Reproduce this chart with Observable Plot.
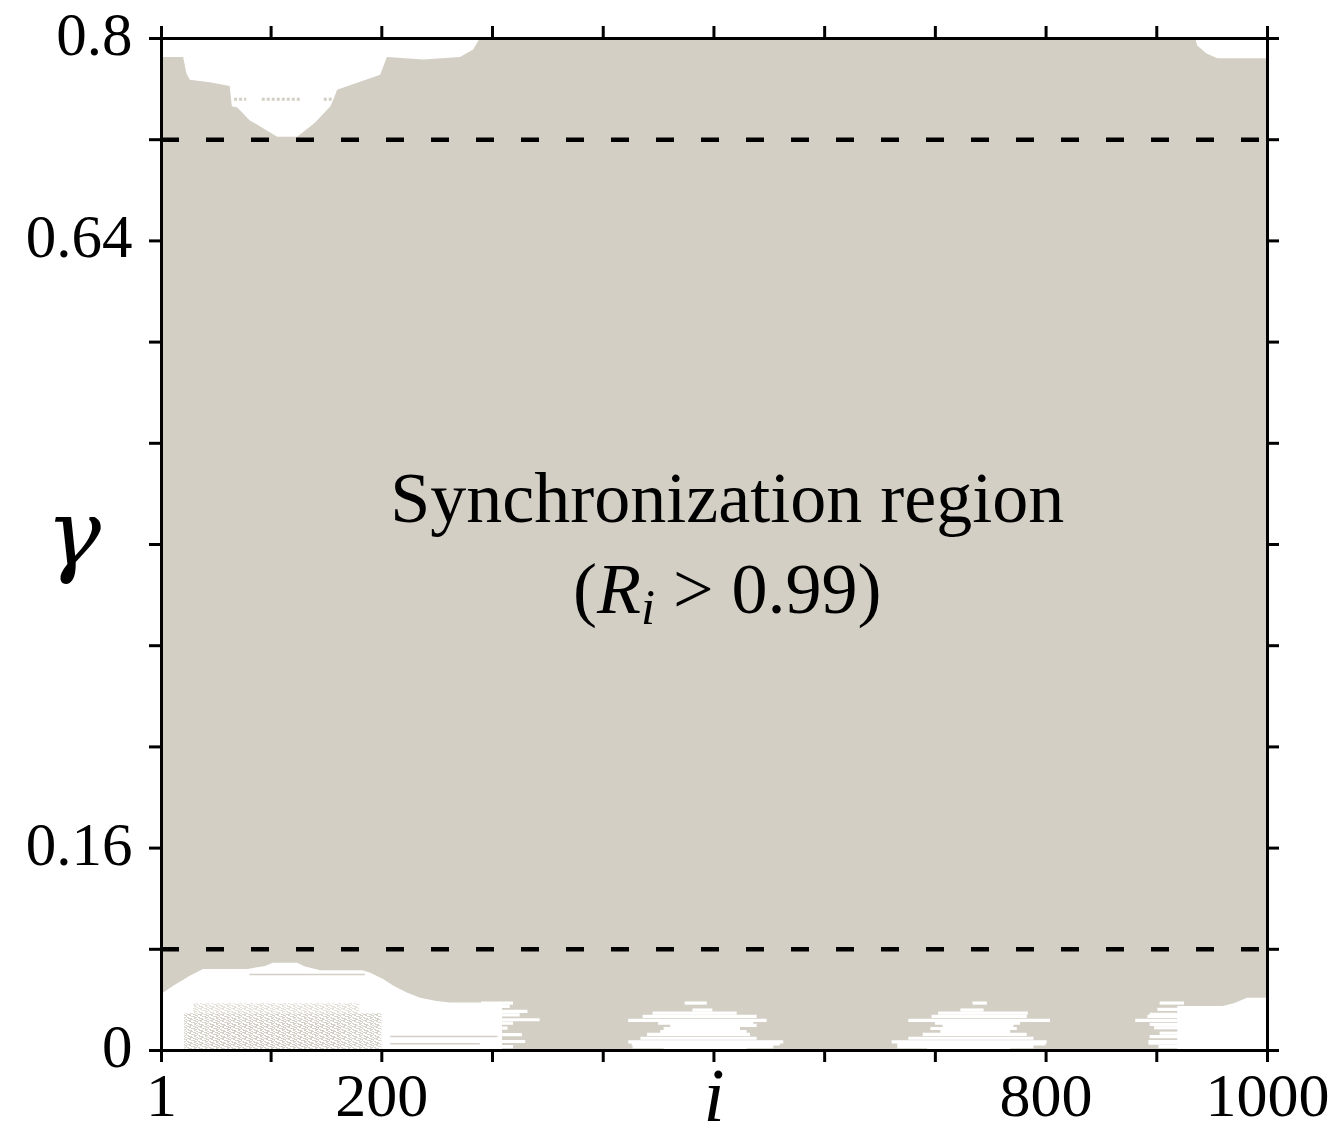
<!DOCTYPE html>
<html>
<head>
<meta charset="utf-8">
<script src="https://cdn.jsdelivr.net/npm/d3@7"></script>
<script src="https://cdn.jsdelivr.net/npm/@observablehq/plot@0.6"></script>
<style>
  html, body { margin: 0; padding: 0; background: #fff; }
  #chart svg { display: block; overflow: visible; }
</style>
</head>
<body>
<div id="chart"></div>
<script>
// ---------- tick values & labels ----------
const xTicks = [1, 100, 200, 300, 400, 500, 600, 700, 800, 900, 1000];
const xTickText = ["1", "", "200", "", "", "", "", "", "800", "", "1000"];
const yTicks = [0, 0.08, 0.16, 0.24, 0.32, 0.40, 0.48, 0.56, 0.64, 0.72, 0.8];
const yTickText = ["0", "", "0.16", "", "", "", "", "", "0.64", "", "0.8"];

// dashed reference levels of gamma
const dashedLevels = [0.08, 0.72];

// upper edge of the synchronization region where it leaves the top (left part)
const topHoleLeft = [
  [1, 0.785], [21, 0.785], [24, 0.772], [27, 0.767], [45, 0.765], [63, 0.762],
  [65, 0.746], [70, 0.745], [81, 0.735], [106, 0.722], [124, 0.722],
  [140, 0.733], [154, 0.746], [157, 0.752], [160, 0.759], [199, 0.771],
  [205, 0.785], [238, 0.783], [271, 0.785], [283, 0.791], [289, 0.8]
].map(([i, g]) => ({i, g}));

// upper edge of the synchronization region (right part)
const topHoleRight = [
  [935, 0.8], [937, 0.794], [945, 0.788], [955, 0.784], [1000, 0.784]
].map(([i, g]) => ({i, g}));

// small unsynchronized traces inside the upper hole
const topSpeckles = [
  {i1: 67, i2: 78, g: 0.752}, {i1: 92, i2: 128, g: 0.752}, {i1: 148, i2: 157, g: 0.752}
];

// lower edge of the synchronization region (left part)
const bottomHoleLeft = [
  [1, 0.0454], [3, 0.0454], [12, 0.0507], [27, 0.0586], [39, 0.064], [79, 0.064],
  [95, 0.0665], [102, 0.069], [124, 0.069], [131, 0.066], [145, 0.063], [183, 0.063],
  [190, 0.061], [202, 0.056], [211, 0.0507], [223, 0.0454], [235, 0.0414],
  [250, 0.0388], [262, 0.0375], [309, 0.0375]
].map(([i, g]) => ({i, g}));

// lower edge of the synchronization region (right part)
const bottomHoleRight = [
  [919, 0.0348], [960, 0.0348], [970, 0.037], [982, 0.0414], [1000, 0.0414]
].map(([i, g]) => ({i, g}));

// partially synchronized (speckled) bands inside the lower-left hole: i1, i2, g1, g2, density
const speckleBands = [
  [30, 180, 0.029, 0.037, 0.6],
  [22, 200, 0.0, 0.029, 0.9],
  [45, 165, 0.0, 0.022, 0.7]
].map(([i1, i2, g1, g2, d]) => ({i1, i2, g1, g2, d}));

// thin synchronized lines crossing the lower-left hole
const grayLines = [
  {i1: 81, i2: 185, g: 0.060},
  {i1: 208, i2: 305, g: 0.0111},
  {i1: 208, i2: 289, g: 0.0053}
];

// thin unsynchronized stripes (i1, i2, gamma)
const whiteStripes = [
  // ragged right end of the lower-left hole
  [290, 319, 0.0375], [290, 316, 0.0349], [290, 332, 0.0309], [290, 325, 0.0282],
  [290, 343, 0.0243], [290, 319, 0.0216], [290, 314, 0.0177], [290, 327, 0.0125],
  [290, 330, 0.0071], [290, 319, 0.003],
  // patch around i = 490
  [474, 494, 0.0375], [481, 499, 0.032], [445, 521, 0.0296], [436, 539, 0.027],
  [423, 548, 0.0238], [450, 536, 0.0216], [461, 539, 0.0198], [455, 524, 0.0174],
  [452, 530, 0.015], [440, 533, 0.0127], [434, 539, 0.0097], [423, 563, 0.0068],
  [426, 560, 0.0052], [427, 554, 0.003], [455, 530, 0.0016],
  // patch around i = 735
  [734, 747, 0.0375], [723, 744, 0.032], [703, 784, 0.0296], [697, 783, 0.027],
  [676, 804, 0.0238], [700, 777, 0.0216], [707, 771, 0.0198], [696, 774, 0.0174],
  [705, 768, 0.015], [689, 783, 0.0127], [676, 789, 0.0097], [661, 801, 0.0068],
  [666, 800, 0.0052], [666, 789, 0.003], [693, 768, 0.0016],
  // ragged left end of the lower-right hole
  [903, 925, 0.0375], [901, 925, 0.0325], [894, 925, 0.0285], [892, 925, 0.027],
  [881, 925, 0.0238], [894, 925, 0.0206], [898, 925, 0.018], [903, 928, 0.0137],
  [894, 1000, 0.011], [893, 1000, 0.0071], [893, 1000, 0.0058], [902, 1000, 0.003]
].map(([i1, i2, g]) => ({i1, i2, g}));

// annotation texts
const regionTitle = [{i: 512, g: 0.4175, text: "Synchronization region"}];
const regionCond = [{i: 512, g: 0.346, text: "(Ri > 0.99)"}];
const xLabel = [{i: 500, text: "i"}];
const yLabel = [{g: 0.384, text: "γ"}];

// ---------- styling ----------
const SYNC = "#d3cfc5";
const FONT = "Liberation Serif, Times New Roman, serif";
const TICK = 12;
const near = (arr, v) => arr.findIndex(t => Math.abs(t - v) < 1e-9);

const chart = Plot.plot({
  width: 1338,
  height: 1137,
  marginTop: 38,
  marginBottom: 87,
  marginLeft: 161,
  marginRight: 71,
  style: {fontFamily: FONT, background: "white", overflow: "visible"},
  x: {domain: [1, 1000], label: null},
  y: {domain: [0, 0.8], label: null},
  marks: [
    Plot.frame({fill: SYNC, stroke: null}),
    Plot.areaY(topHoleLeft, {x: "i", y1: "g", y2: 0.8, fill: "white"}),
    Plot.areaY(topHoleRight, {x: "i", y1: "g", y2: 0.8, fill: "white"}),
    Plot.ruleY(topSpeckles, {y: "g", x1: "i1", x2: "i2", stroke: SYNC, strokeWidth: 3, strokeDasharray: "3,2"}),
    Plot.areaY(bottomHoleLeft, {x: "i", y1: 0, y2: "g", fill: "white"}),
    Plot.areaY(bottomHoleRight, {x: "i", y1: 0, y2: "g", fill: "white"}),
    Plot.rect(speckleBands, {x1: "i1", x2: "i2", y1: "g1", y2: "g2", fill: "url(#speckle)", fillOpacity: "d"}),
    Plot.ruleY(whiteStripes, {y: "g", x1: "i1", x2: "i2", stroke: "white", strokeWidth: 3.2}),
    Plot.ruleY(grayLines, {y: "g", x1: "i1", x2: "i2", stroke: SYNC, strokeWidth: 1.5}),
    Plot.ruleY(dashedLevels, {stroke: "black", strokeWidth: 4.5, strokeDasharray: "18,27"}),
    Plot.text(regionTitle, {x: "i", y: "g", text: "text", fontSize: 72, lineAnchor: "bottom", textAnchor: "middle", fill: "black"}),
    Plot.text(regionCond, {x: "i", y: "g", text: "text", fontSize: 72, lineAnchor: "bottom", textAnchor: "middle", fill: "black"}),
    Plot.text(yLabel, {y: "g", text: "text", frameAnchor: "left", dx: -88, fontSize: 92, fontFamily: "DejaVu Serif", fontStyle: "italic", lineAnchor: "bottom", textAnchor: "middle", fill: "black"}),
    Plot.text(xLabel, {x: "i", text: "text", frameAnchor: "bottom", dy: 70, fontSize: 76, fontStyle: "italic", lineAnchor: "bottom", textAnchor: "middle", fill: "black"}),
    Plot.frame({stroke: "black", strokeWidth: 3}),
    // outward tick marks on all four sides (positions from the x / y scales)
    Plot.ruleX(xTicks, {x: d => d, y1: 0, y2: 0, insetBottom: -TICK, stroke: "black", strokeWidth: 3}),
    Plot.ruleX(xTicks, {x: d => d, y1: 0.8, y2: 0.8, insetTop: -TICK, stroke: "black", strokeWidth: 3}),
    Plot.ruleY(yTicks, {y: d => d, x1: 1, x2: 1, insetLeft: -TICK, stroke: "black", strokeWidth: 3}),
    Plot.ruleY(yTicks, {y: d => d, x1: 1000, x2: 1000, insetRight: -TICK, stroke: "black", strokeWidth: 3}),
    // tick labels
    Plot.axisX({anchor: "bottom", ticks: xTicks, tickSize: 0, tickPadding: TICK + 9, fontSize: 62, fill: "black", tickFormat: d => xTickText[near(xTicks, d)], label: null}),
    Plot.axisY({anchor: "left", ticks: yTicks, tickSize: 0, tickPadding: TICK + 17, fontSize: 61, fill: "black", dy: -3, tickFormat: d => yTickText[near(yTicks, d)], label: null})
  ]
});

document.getElementById("chart").appendChild(chart);

// speckle texture used for the partially synchronized band
const defs = d3.select(chart).insert("defs", ":first-child");
const pat = defs.append("pattern").attr("id", "speckle").attr("patternUnits", "userSpaceOnUse")
  .attr("width", 11).attr("height", 6);
[[0, 0, 4, 1], [6, 0, 3, 1], [2, 1, 2, 1], [8, 1, 3, 1], [4, 2, 4, 1], [0, 3, 2, 1],
 [7, 3, 3, 1], [1, 4, 4, 1], [7, 4, 2, 1], [9, 5, 2, 1], [3, 5, 3, 1], [10, 2, 1, 1]]
  .forEach(([x, y, w, h]) => pat.append("rect").attr("x", x).attr("y", y).attr("width", w).attr("height", h).attr("fill", SYNC));

// typeset (R_i > 0.99) with italic R and subscript i
d3.select(chart).selectAll("text").each(function() {
  if (this.textContent === "(Ri > 0.99)") {
    const t = d3.select(this);
    t.text(null);
    t.append("tspan").text("(");
    t.append("tspan").attr("font-style", "italic").text("R");
    t.append("tspan").attr("font-style", "italic").attr("font-size", "0.7em").attr("dy", "0.22em").text("i");
    t.append("tspan").attr("dy", "-0.154em").text(" > 0.99)");
  }
});
</script>
</body>
</html>
